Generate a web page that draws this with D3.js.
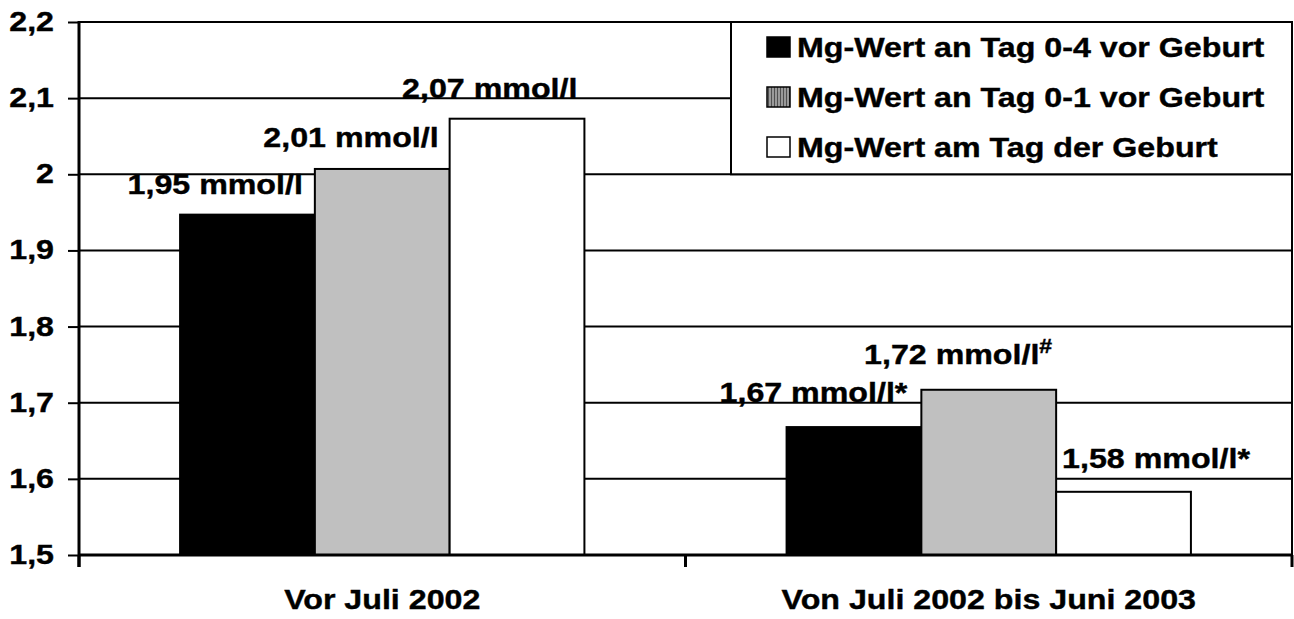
<!DOCTYPE html>
<html>
<head>
<meta charset="utf-8">
<script src="https://cdn.jsdelivr.net/npm/d3@7"></script>
<style>
  body { margin: 0; background: #fff; }
  text { font-family: "Liberation Sans", Arial, sans-serif; font-weight: bold; fill: #000; stroke: #000; stroke-width: 0.4px; }
</style>
</head>
<body>
<script>
// chart data
var categories = ["Vor Juli 2002", "Von Juli 2002 bis Juni 2003"];
var seriesNames = ["Mg-Wert an Tag 0-4 vor Geburt", "Mg-Wert an Tag 0-1 vor Geburt", "Mg-Wert am Tag der Geburt"];
var seriesColors = ["#000000", "#c0c0c0", "#ffffff"];
var valuesBefore = [1.947, 2.007, 2.073];
var valuesAfter = [1.668, 1.717, 1.583];
var marksBefore = ["", "", ""];
var marksAfter = ["*", "#", "*"];
var yTicks = [1.5, 1.6, 1.7, 1.8, 1.9, 2.0, 2.1, 2.2];

var svgWidth = 1294;
var svgHeight = 619;
var sx = 1.15; // the original text is a bit stretched horizontally
var fontSize = 28;

var plot = { left: 79, right: 1292, top: 22, bottom: 555 };

var svg = d3.select("body")
  .append("svg")
  .attr("width", svgWidth)
  .attr("height", svgHeight);

// stripes for the grey legend swatch
var pat = svg.append("defs").append("pattern")
  .attr("id", "stripes")
  .attr("patternUnits", "userSpaceOnUse")
  .attr("width", 3).attr("height", 3);
pat.append("rect").attr("width", 3).attr("height", 3).attr("fill", "#9a9a9a");
pat.append("rect").attr("width", 1).attr("height", 3).attr("fill", "#505050");

var yScale = d3.scaleLinear()
  .domain([1.5, 2.2])
  .range([plot.bottom, plot.top]);

var x0 = d3.scaleBand()
  .domain(categories)
  .range([plot.left, plot.right])
  .padding(0);

var bw = x0.bandwidth();
var gap = bw * 0.75 / 4.5;
var x1 = d3.scaleBand()
  .domain(seriesNames)
  .range([gap, bw - gap])
  .padding(0);

function stretchText(sel, x, y, anchor) {
  return sel.append("text")
    .attr("transform", "translate(" + x + "," + y + ") scale(" + sx + ",1)")
    .attr("text-anchor", anchor)
    .attr("font-size", fontSize);
}

// gridlines
svg.append("g").selectAll("line")
  .data(yTicks.slice(1))
  .enter()
  .append("line")
  .attr("x1", plot.left)
  .attr("x2", plot.right)
  .attr("y1", d => yScale(d))
  .attr("y2", d => yScale(d))
  .attr("stroke", "#000")
  .attr("stroke-width", 2);

// right border
svg.append("line")
  .attr("x1", plot.right).attr("x2", plot.right)
  .attr("y1", plot.top - 1).attr("y2", plot.bottom)
  .attr("stroke", "#000").attr("stroke-width", 2);

// bars
var groups = [
  { cat: categories[0], values: valuesBefore, marks: marksBefore },
  { cat: categories[1], values: valuesAfter, marks: marksAfter }
];

var barData = [];
groups.forEach(function(g) {
  g.values.forEach(function(v, i) {
    barData.push({ cat: g.cat, series: seriesNames[i], color: seriesColors[i], value: v, mark: g.marks[i] });
  });
});

svg.append("g").selectAll("rect")
  .data(barData)
  .enter()
  .append("rect")
  .attr("x", d => x0(d.cat) + x1(d.series))
  .attr("y", d => yScale(d.value))
  .attr("width", x1.bandwidth())
  .attr("height", d => plot.bottom - yScale(d.value))
  .attr("fill", d => d.color)
  .attr("stroke", "#000")
  .attr("stroke-width", 2);

// axes
var leftAxis = d3.axisLeft(yScale)
  .tickValues(yTicks)
  .tickSize(11)
  .tickFormat("");
var gl = svg.append("g")
  .attr("transform", "translate(" + plot.left + ",0)")
  .call(leftAxis);
gl.select(".domain").remove();
gl.selectAll("line").attr("stroke", "#000").attr("stroke-width", 2);
svg.append("line")
  .attr("x1", plot.left).attr("x2", plot.left)
  .attr("y1", plot.top - 1).attr("y2", plot.bottom + 12)
  .attr("stroke", "#000").attr("stroke-width", 3);

yTicks.forEach(function(t) {
  stretchText(svg, 54, yScale(t) + 9, "end")
    .text(d3.format(".1f")(t).replace(/\.0$/, "").replace(".", ","));
});

svg.append("line")
  .attr("x1", plot.left).attr("x2", plot.right)
  .attr("y1", plot.bottom).attr("y2", plot.bottom)
  .attr("stroke", "#000").attr("stroke-width", 3);

var catTicks = [plot.left, x0(categories[1]), plot.right];
svg.append("g").selectAll("line")
  .data(catTicks)
  .enter()
  .append("line")
  .attr("x1", d => d).attr("x2", d => d)
  .attr("y1", plot.bottom).attr("y2", plot.bottom + 12)
  .attr("stroke", "#000").attr("stroke-width", 3);

categories.forEach(function(c) {
  stretchText(svg, x0(c) + bw / 2, 609, "middle").text(c);
});

// value labels (nudged like in the original)
var labelNudge = [[-12, -21], [-11, -22], [-7, -21], [-14, -25], [-4, -26], [59, -24]];
barData.forEach(function(d, i) {
  var xr = x0(d.cat) + x1(d.series) + x1.bandwidth();
  var t = stretchText(svg, xr + labelNudge[i][0], yScale(d.value) + labelNudge[i][1], "end");
  t.append("tspan").text(d3.format(".2f")(d.value).replace(".", ",") + " mmol/l" + (d.mark === "*" ? "*" : ""));
  if (d.mark === "#") {
    t.append("tspan").attr("font-size", 20).attr("dy", -11).text("#");
  }
});

// legend
var legend = svg.append("g");
legend.append("rect")
  .attr("x", 731).attr("y", plot.top)
  .attr("width", plot.right - 731).attr("height", yScale(2.0) - plot.top)
  .attr("fill", "#fff").attr("stroke", "#000").attr("stroke-width", 2);

var legendFills = ["#000", "url(#stripes)", "#fff"];
seriesNames.forEach(function(name, i) {
  var cy = 47 + i * 50;
  legend.append("rect")
    .attr("x", 767).attr("y", cy - 10)
    .attr("width", 23).attr("height", 20)
    .attr("fill", legendFills[i])
    .attr("stroke", "#000").attr("stroke-width", 1.5);
  stretchText(legend, 797, cy + 10, "start").text(name);
});
</script>
</body>
</html>
